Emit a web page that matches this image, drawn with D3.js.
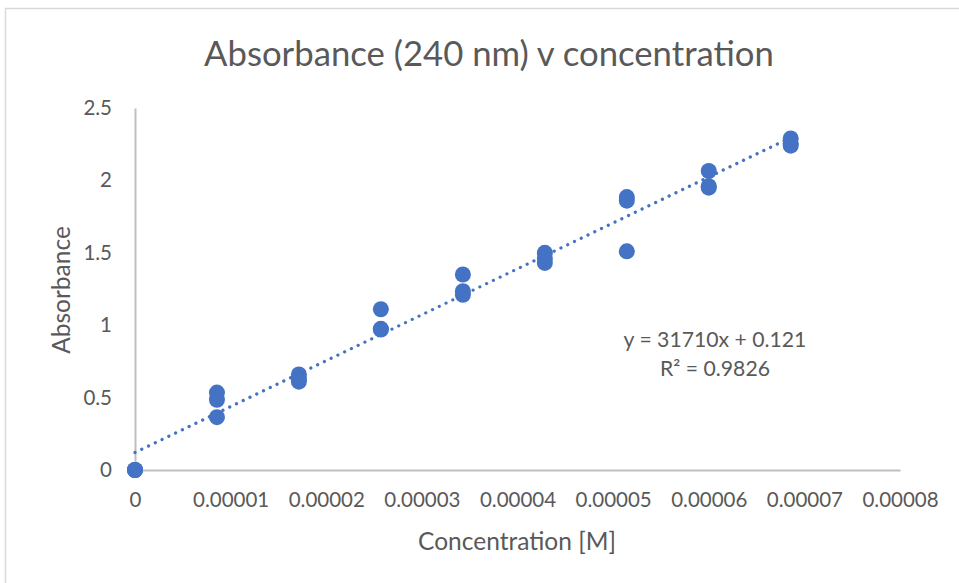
<!DOCTYPE html>
<html>
<head>
<meta charset="utf-8">
<script src="https://cdn.jsdelivr.net/npm/d3@7"></script>
<style>
  body { margin: 0; background: #fff; }
  text { font-family: Lato, "Open Sans", sans-serif; fill: #595959; }
</style>
</head>
<body>
<svg id="chart" width="959" height="583"></svg>
<script>
// concentrations [M] for each standard, and the absorbance readings at each
var concentrations = [0, 0.00000857, 0.00001714, 0.00002571, 0.00003429, 0.00004286, 0.00005143, 0.00006, 0.00006857];
var absorbance = [
  [0, 0, 0],
  [0.535, 0.485, 0.365],
  [0.66, 0.63, 0.61],
  [1.11, 0.975, 0.97],
  [1.35, 1.235, 1.21],
  [1.50, 1.46, 1.43],
  [1.885, 1.86, 1.51],
  [2.065, 1.96, 1.95],
  [2.29, 2.255, 2.24]
];
var xTicks = [0, 0.00001, 0.00002, 0.00003, 0.00004, 0.00005, 0.00006, 0.00007, 0.00008];
var xTickLabels = ["0", "0.00001", "0.00002", "0.00003", "0.00004", "0.00005", "0.00006", "0.00007", "0.00008"];
var yTicks = [0, 0.5, 1, 1.5, 2, 2.5];
var yTickLabels = ["0", "0.5", "1", "1.5", "2", "2.5"];
var slope = 31710, intercept = 0.121, rSquared = "0.9826";

var svg = d3.select("#chart");
var blue = "#4472C4";

// chart area border (only top/left show in the frame)
svg.append("rect")
  .attr("x", 5.5).attr("y", 8.5)
  .attr("width", 1000).attr("height", 1000)
  .attr("fill", "#fff")
  .attr("stroke", "#d9d9d9")
  .attr("stroke-width", 1.5);

var x = d3.scaleLinear().domain([0, 0.00008]).range([135, 900]);
var y = d3.scaleLinear().domain([0, 2.5]).range([470, 108]);

// axes lines
var xAxis = d3.axisBottom(x).tickValues(xTicks)
  .tickFormat(function(d, i) { return xTickLabels[i]; })
  .tickSize(0).tickPadding(22);
var gx = svg.append("g").attr("transform", "translate(0," + y(0) + ")").call(xAxis);
gx.select(".domain").attr("stroke", "#bfbfbf").attr("stroke-width", 2);
gx.selectAll("text").attr("font-size", 20.5).attr("font-family", "Lato").attr("fill", "#595959");

var yAxis = d3.axisLeft(y).tickValues(yTicks)
  .tickFormat(function(d, i) { return yTickLabels[i]; })
  .tickSize(0).tickPadding(23);
var gy = svg.append("g").attr("transform", "translate(" + x(0) + ",0)").call(yAxis);
gy.select(".domain").attr("stroke", "#bfbfbf").attr("stroke-width", 2);
gy.selectAll("text").attr("font-size", 20.5).attr("font-family", "Lato").attr("fill", "#595959");

// flatten the readings into points
var points = [];
concentrations.forEach(function(c, i) {
  absorbance[i].forEach(function(a) { points.push({x: c, y: a}); });
});

svg.append("g").selectAll("circle")
  .data(points)
  .enter().append("circle")
  .attr("cx", function(d) { return x(d.x); })
  .attr("cy", function(d) { return y(d.y); })
  .attr("r", 8)
  .attr("fill", blue);

// linear trendline from the fitted equation
var xMax = d3.max(concentrations);
var trend = d3.line()
  .x(function(d) { return x(d); })
  .y(function(d) { return y(slope * d + intercept); });
svg.append("path")
  .attr("d", trend([0, xMax]))
  .attr("fill", "none")
  .attr("stroke", blue)
  .attr("stroke-width", 3.2)
  .attr("stroke-linecap", "round")
  .attr("stroke-dasharray", "0.1 7.4");

// title and axis titles
svg.append("text")
  .attr("x", 489).attr("y", 66)
  .attr("text-anchor", "middle")
  .attr("font-size", 34.7)
  .text("Absorbance (240 nm) v concentration");

svg.append("text")
  .attr("x", 517).attr("y", 550)
  .attr("text-anchor", "middle")
  .attr("font-size", 24.5)
  .text("Concentration [M]");

svg.append("text")
  .attr("transform", "translate(70,290) rotate(-90)")
  .attr("text-anchor", "middle")
  .attr("font-size", 24.5)
  .text("Absorbance");

// equation label
var eq = svg.append("text")
  .attr("text-anchor", "middle")
  .attr("font-size", 21.2);
eq.append("tspan").attr("x", 715).attr("y", 347)
  .text("y = " + slope + "x + " + intercept);
eq.append("tspan").attr("x", 715).attr("y", 376)
  .text("R² = " + rSquared);
</script>
</body>
</html>
